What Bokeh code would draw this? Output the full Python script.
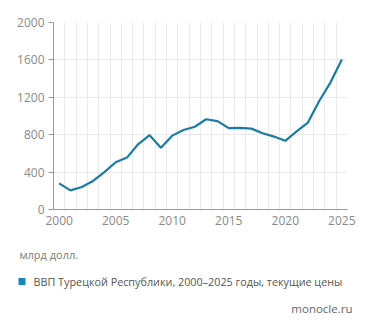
from bokeh.plotting import figure
from bokeh.layouts import column
from bokeh.models import Range1d, FixedTicker
from bokeh.core.properties import value
from bokeh.embed import file_html
from bokeh.resources import INLINE

# Turkey GDP, current prices, bn USD
years = list(range(2000, 2026))
gdp = [280, 205, 240, 305, 400, 505, 555, 700, 795, 660,
       790, 850, 885, 965, 945, 870, 872, 865, 815, 780,
       735, 835, 930, 1160, 1360, 1605]
x_ticks = [2000, 2005, 2010, 2015, 2020, 2025]
y_ticks = [0, 400, 800, 1200, 1600, 2000]

unit_text = "млрд долл."
legend_text = "ВВП Турецкой Республики, 2000–2025 годы, текущие цены"
source_text = "monocle.ru"

FONT = "Open Sans"
LINE = "#1a7ca3"
AXIS = "#9a9a9a"
GRID = "#e9e9e9"
LABEL = "#8a8a8a"

p = figure(width=371, height=235, output_backend="svg", toolbar_location=None,
           x_range=Range1d(1999.5, 2025.5), y_range=Range1d(0, 2000),
           min_border_left=53, min_border_right=24,
           min_border_top=22, min_border_bottom=26)
p.outline_line_color = None
p.background_fill_color = "white"
p.border_fill_color = "white"
p.frame_align = False

# grids: vertical lines between years, horizontal at y ticks
p.xgrid.ticker = FixedTicker(ticks=[y + 0.5 for y in range(1999, 2026)])
p.xgrid.grid_line_color = GRID
p.ygrid.ticker = FixedTicker(ticks=y_ticks)
p.ygrid.grid_line_color = GRID

p.xaxis.ticker = FixedTicker(ticks=x_ticks)
p.yaxis.ticker = FixedTicker(ticks=y_ticks)
for ax in (p.xaxis, p.yaxis):
    ax.axis_line_color = AXIS
    ax.major_tick_line_color = AXIS
    ax.minor_tick_line_color = None
    ax.major_label_text_color = LABEL
    ax.major_label_text_font = FONT
    ax.major_label_text_font_size = "12px"
    ax.major_tick_in = 0
p.xaxis.major_tick_out = 0
p.xaxis.major_label_standoff = 6
p.yaxis.major_tick_out = 5
p.yaxis.major_label_standoff = 4

p.line(years, gdp, line_color=LINE, line_width=2.2)

# notes panel below the chart, in pixel coordinates (y grows downward)
n = figure(width=371, height=95, output_backend="svg", toolbar_location=None,
           x_range=Range1d(0, 371), y_range=Range1d(95, 0),
           min_border=0, x_axis_type=None, y_axis_type=None)
n.outline_line_color = None
n.grid.visible = False
n.border_fill_color = "white"
n.frame_align = False

n.text(x=[19], y=[19], text=[unit_text], text_font=value(FONT),
       text_font_size="11px", text_color="#7a7a7a", text_baseline="middle")
n.rect(x=[21.5], y=[46], width=7, height=7, fill_color="#1a86b3",
       line_color=None)
n.text(x=[33], y=[46], text=[legend_text], text_font=value(FONT),
       text_font_size="10.8px", text_color="#555555", text_baseline="middle")
n.text(x=[352], y=[73], text=[source_text], text_font=value(FONT),
       text_font_size="11.5px", text_color="#666666", text_baseline="middle",
       text_align="right")

layout = column(p, n, spacing=0)
open("out.html", "w").write(file_html(layout, INLINE))
